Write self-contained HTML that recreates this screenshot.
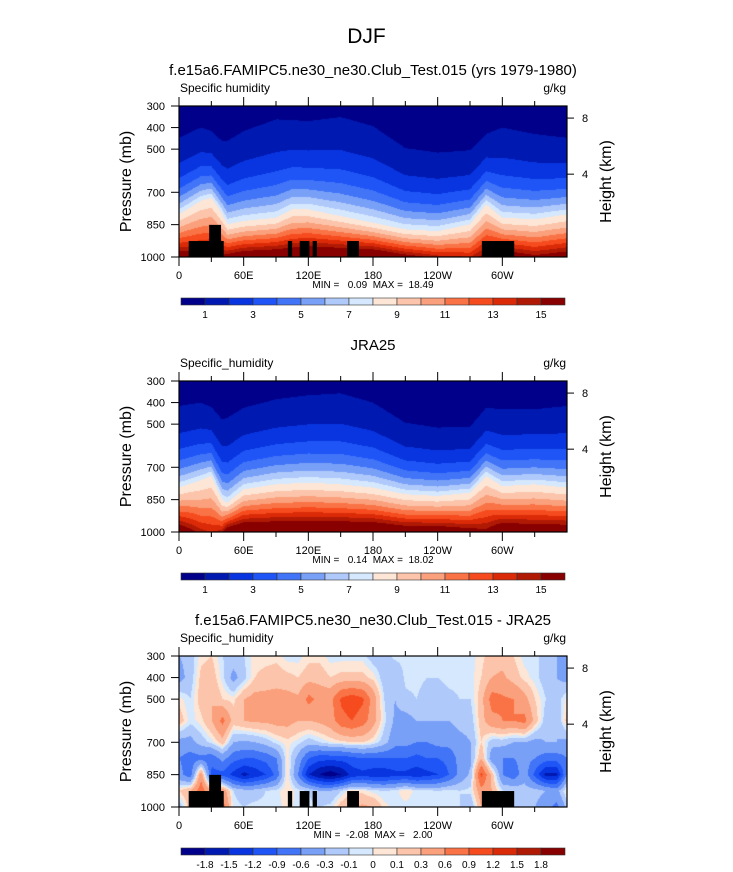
<!DOCTYPE html>
<html><head><meta charset="utf-8">
<style>
html,body{margin:0;padding:0;background:#fff;}
#wrap{position:relative;width:733px;height:872px;overflow:hidden;font-family:"Liberation Sans",sans-serif;}
canvas{position:absolute;}
svg{position:absolute;left:0;top:0;}
</style></head>
<body>
<div id="wrap">
<canvas id="c1" width="388" height="151" style="left:179px;top:106px"></canvas>
<canvas id="c2" width="388" height="151" style="left:179px;top:381px"></canvas>
<canvas id="c3" width="388" height="151" style="left:179px;top:656px"></canvas>
<svg id="ov" width="733" height="872"></svg>
</div>
<script>
// ---- data ----
const qLons = [0,20,30,40,45,60,90,105,120,150,180,210,240,270,285,300,330,360];
const modelP1 = [447,400,415,462,462,416,362,365,370,351,393,495,516,505,430,400,430,447];
const modelP8 = [802,740,725,800,848,833,818,779,779,810,841,872,880,848,756,818,825,802];
const modelQs = [16.5,16,16,15.5,16,17,17.5,17.5,18,18,18,16,14.5,14,16,17,15.5,16.5];
const obsP1 = [416,400,420,478,470,424,385,375,366,357,400,493,516,512,424,431,431,416];
const obsP8 = [794,760,740,850,864,802,779,775,771,779,794,825,833,818,740,787,779,794];
const obsQs = [17,14.5,14,14.5,17,18,18,18,18,18,18,17,17,16,15.5,17.5,17,17];
const qLevels = [1,2,3,4,5,6,7,8,9,10,11,12,13,14,15];
const qTickLabels = ["1","3","5","7","9","11","13","15"];
const qColors = ["#00008a","#0019b0","#0835e0","#1f55f7","#4174f7","#79a0f7","#b0c9fb","#d5e8fd","#fde6d6","#fcc4aa","#fba07c","#f97346","#f54b1e","#db2a08","#b01a05","#880000"];
const dLevels = [-1.8,-1.5,-1.2,-0.9,-0.6,-0.3,-0.1,0,0.1,0.3,0.6,0.9,1.2,1.5,1.8];
const dTickLabels = ["-1.8","-1.5","-1.2","-0.9","-0.6","-0.3","-0.1","0","0.1","0.3","0.6","0.9","1.2","1.5","1.8"];
const dLons = [0,10,20,30,40,50,60,70,80,90,100,110,120,130,140,150,160,170,180,190,200,210,220,230,240,250,260,270,280,290,300,310,320,330,340,350,360];
const dPres = [300,400,500,600,700,775,850,925,1000];
const d300 = [-0.3,-0.2,0.05,0.1,-0.1,-0.15,-0.1,0.05,0.05,0.05,-0.05,-0.05,0.05,0.05,-0.05,-0.05,-0.05,-0.05,-0.2,-0.2,-0.05,-0.05,-0.05,-0.05,-0.05,-0.05,-0.05,-0.05,0.05,0.2,0.2,0.1,-0.05,-0.05,-0.2,-0.3,-0.3];
const d400 = [-0.4,-0.2,0.15,0.2,-0.05,-0.4,-0.15,0.1,0.15,0.2,0.15,0.1,0.2,0.2,0.1,0.15,0.15,0.15,0.05,-0.2,-0.3,-0.05,-0.05,-0.1,-0.1,-0.05,-0.05,-0.05,0.1,0.3,0.35,0.2,0.05,-0.05,-0.2,-0.3,-0.4];
const d500 = [0.05,-0.1,0.2,0.3,0.1,0.05,0.3,0.4,0.4,0.4,0.4,0.35,0.7,0.5,0.5,0.95,1.1,0.95,0.45,-0.1,-0.3,-0.15,-0.1,-0.2,-0.2,-0.15,-0.1,-0.1,0.2,0.75,0.65,0.6,0.4,0.1,-0.1,-0.2,0.05];
const d600 = [0.2,-0.05,0.05,0.3,0.7,0.2,0.3,0.35,0.35,0.4,0.4,0.3,0.3,0.35,0.45,0.8,0.9,0.75,0.4,-0.05,-0.35,-0.4,-0.3,-0.3,-0.3,-0.3,-0.2,-0.2,0.2,0.5,0.6,0.6,0.7,0.2,-0.2,-0.3,0.2];
const d700 = [-0.4,-0.4,-0.2,-0.05,0.2,-0.3,-0.35,-0.3,-0.2,-0.05,0.05,-0.05,-0.2,-0.1,0.0,0.05,0.1,0.1,0.0,-0.2,-0.5,-0.5,-0.6,-0.6,-0.5,-0.5,-0.4,-0.3,0.1,-0.2,-0.2,-0.3,-0.3,-0.4,-0.3,-0.3,-0.4];
const d775 = [-0.6,-0.75,-0.7,-0.8,-0.5,-0.8,-0.9,-0.9,-0.8,-0.6,0.05,-0.4,-0.9,-1.1,-1.1,-1.1,-1.0,-0.9,-0.9,-0.9,-0.9,-0.9,-1.0,-0.9,-0.9,-0.8,-0.5,-0.35,0.3,-0.5,-0.6,-0.6,-0.5,-0.6,-0.75,-0.75,-0.6];
const d850 = [-0.5,-0.8,0.5,-1.0,-1.0,-1.3,-1.6,-1.4,-1.2,-0.8,0.1,-0.6,-1.5,-1.8,-2.0,-1.8,-1.4,-1.3,-1.4,-1.4,-1.3,-1.3,-1.4,-1.3,-1.2,-0.9,-0.5,-0.25,1.0,0.2,-0.6,-0.8,-0.4,-1.0,-1.6,-1.6,-0.5];
const d925 = [0.1,0.3,0.8,0.3,0.5,-0.1,-0.2,-0.2,-0.1,-0.05,0.1,-0.05,-0.1,-0.3,-0.3,-0.1,0.1,0.05,-0.05,-0.1,-0.05,0.1,-0.05,-0.05,-0.1,-0.05,-0.1,-0.05,0.5,0.3,-0.1,-0.1,-0.2,-0.2,-0.3,-0.4,0.1];
const d1000 = [-0.2,0.2,0.3,0.3,0.8,-0.05,-0.1,-0.05,-0.05,-0.05,0.05,-0.05,-0.05,-0.1,-0.05,0.2,0.3,0.35,0.3,0.05,-0.05,-0.05,-0.1,-0.05,-0.05,-0.05,-0.1,-0.3,0.3,0.2,-0.05,-0.1,-0.3,-0.3,-0.5,-0.7,-0.2];
const topoLon0 = [9,28,101,112,124,156,281];
const topoLon1 = [41.5,39,105,121,128,167,311];
const topoTop = [926,851,926,926,926,926,926];
const xTickLons = [0,60,120,180,240,300];
const xTickLabels = ["0","60E","120E","180","120W","60W"];
const pTicks = [300,400,500,700,850,1000];
const hTickPres = [356,616];
const hTickLabels = ["8","4"];

// ---- axes ----
const PX0=179, PW=388, PH=151;
const panelTops=[106,381,656];
const xs = lon => lon/360*PW;
const ys = p => (p-300)/700*PH;
function interp(xa, ya, x){
  for(let i=0;i<xa.length-1;i++){ if(x<=xa[i+1]){const t=(x-xa[i])/(xa[i+1]-xa[i]);return ya[i]+t*(ya[i+1]-ya[i]);} }
  return ya[ya.length-1];
}
function levelIndex(levels,v){let k=0;for(const l of levels){if(v>=l)k++;}return k;}
function hex(c){return [parseInt(c.slice(1,3),16),parseInt(c.slice(3,5),16),parseInt(c.slice(5,7),16)];}
const qRGB=qColors.map(hex);

function drawQ(id,P1,P8,QS){
  const cv=document.getElementById(id),ctx=cv.getContext('2d');
  const img=ctx.createImageData(PW,PH);
  for(let x=0;x<PW;x++){
    const lon=x/PW*360+0.5;
    const p1=interp(qLons,P1,lon),p8=interp(qLons,P8,lon),qs=interp(qLons,QS,lon);
    for(let y=0;y<PH;y++){
      const p=300+(y+0.5)/PH*700;
      let q;
      if(p>=p8){q=Math.exp(Math.log(8)+(p-p8)/(1000-p8)*Math.log(qs/8));}
      else{q=Math.exp((p-p1)/(p8-p1)*Math.log(8));}
      const c=qRGB[levelIndex(qLevels,q)];
      const o=(y*PW+x)*4;img.data[o]=c[0];img.data[o+1]=c[1];img.data[o+2]=c[2];img.data[o+3]=255;
    }
  }
  ctx.putImageData(img,0,0);
}
drawQ('c1',modelP1,modelP8,modelQs);
drawQ('c2',obsP1,obsP8,obsQs);
(function(){
  const rows=[d300,d400,d500,d600,d700,d775,d850,d925,d1000];
  const cv=document.getElementById('c3'),ctx=cv.getContext('2d');
  const img=ctx.createImageData(PW,PH);
  for(let x=0;x<PW;x++){
    const lon=x/PW*360;
    const col=rows.map(r=>interp(dLons,r,lon));
    for(let y=0;y<PH;y++){
      const p=300+(y+0.5)/PH*700;
      const v=interp(dPres,col,p);
      const c=qRGB[levelIndex(dLevels,v)];
      const o=(y*PW+x)*4;img.data[o]=c[0];img.data[o+1]=c[1];img.data[o+2]=c[2];img.data[o+3]=255;
    }
  }
  ctx.putImageData(img,0,0);
})();

const NS='http://www.w3.org/2000/svg';
const ov=document.getElementById('ov');
function mk(tag,attrs,parent){const e=document.createElementNS(NS,tag);for(const k in attrs)e.setAttribute(k,attrs[k]);(parent||ov).appendChild(e);return e;}
function txt(s,x,y,size,anchor,parent,extra){const t=mk('text',Object.assign({x:x,y:y,'font-size':size,'text-anchor':anchor||'start','font-family':'Liberation Sans, sans-serif',fill:'#000'},extra||{}),parent);t.textContent=s;return t;}

let t=txt('DJF',366.5,43,21,'middle');

const titles=['f.e15a6.FAMIPC5.ne30_ne30.Club_Test.015 (yrs 1979-1980)','JRA25','f.e15a6.FAMIPC5.ne30_ne30.Club_Test.015 - JRA25'];
const left=['Specific humidity','Specific_humidity','Specific_humidity'];
const minmax=['MIN =   0.09  MAX =  18.49','MIN =   0.14  MAX =  18.02','MIN =  -2.08  MAX =   2.00'];
panelTops.forEach((T,i)=>{
  const g=mk('g',{});
  
  
  let e=txt(titles[i],373,T-31,15,'middle',g);
  
  e=txt(left[i],180,T-14,12,'start',g);
  
  e=txt('g/kg',566,T-14,12,'end',g);
  
  if(i!==1){
    topoLon0.forEach((l0,k)=>{
      const r=mk('rect',{x:PX0+xs(l0),y:T+ys(topoTop[k]),width:xs(topoLon1[k])-xs(l0),height:ys(1000)-ys(topoTop[k]),fill:'#000'},g);
      
    });
  }
  const fr=mk('rect',{x:PX0,y:T,width:PW,height:PH,fill:'none',stroke:'#000','stroke-width':1.2},g);
  
  for(let lon=0;lon<=330;lon+=30){
    const x=PX0+xs(lon),len=(lon%60===0)?9:5;
    mk('line',{x1:x,x2:x,y1:T,y2:T-len,stroke:'#000','stroke-width':1},g);
    mk('line',{x1:x,x2:x,y1:T+PH,y2:T+PH+len,stroke:'#000','stroke-width':1},g);
  }
  xTickLons.forEach((lon,k)=>{e=txt(xTickLabels[k],PX0+xs(lon),T+PH+22,11,'middle',g);});
  pTicks.forEach(p=>{const y=T+ys(p);mk('line',{x1:PX0-8,x2:PX0,y1:y,y2:y,stroke:'#000'},g);
    e=txt(String(p),PX0-14,y+4,11,'end',g);});
  hTickPres.forEach((p,k)=>{const y=T+ys(p);mk('line',{x1:PX0+PW,x2:PX0+PW+7,y1:y,y2:y,stroke:'#000'},g);
    e=txt(hTickLabels[k],PX0+PW+15,y+4,11,'start',g);});
  e=txt('Pressure (mb)',0,0,16,'middle',g,{transform:`translate(131,${T+PH/2}) rotate(-90)`});
  
  e=txt('Height (km)',0,0,16,'middle',g,{transform:`translate(611,${T+PH/2}) rotate(-90)`});
  
  e=txt(minmax[i],373,T+PH+31,10,'middle',g);
  e.style.whiteSpace='pre';
  
  const cb=mk('g',{},g);
  
  const cy=T+192,cx0=181,cw=384/16;
  qColors.forEach((c,k)=>{const r=mk('rect',{x:cx0+k*cw,y:cy,width:cw,height:7,fill:c,stroke:'#333','stroke-width':0.6},cb);
    });
  if(i<2){
    qTickLabels.forEach((s,k)=>{e=txt(s,cx0+(1+2*k)*cw,cy+20,10,'middle',cb);});
  } else {
    dTickLabels.forEach((s,k)=>{e=txt(s,cx0+(1+k)*cw,cy+20,10,'middle',cb);});
  }
});
</script>
</body></html>
